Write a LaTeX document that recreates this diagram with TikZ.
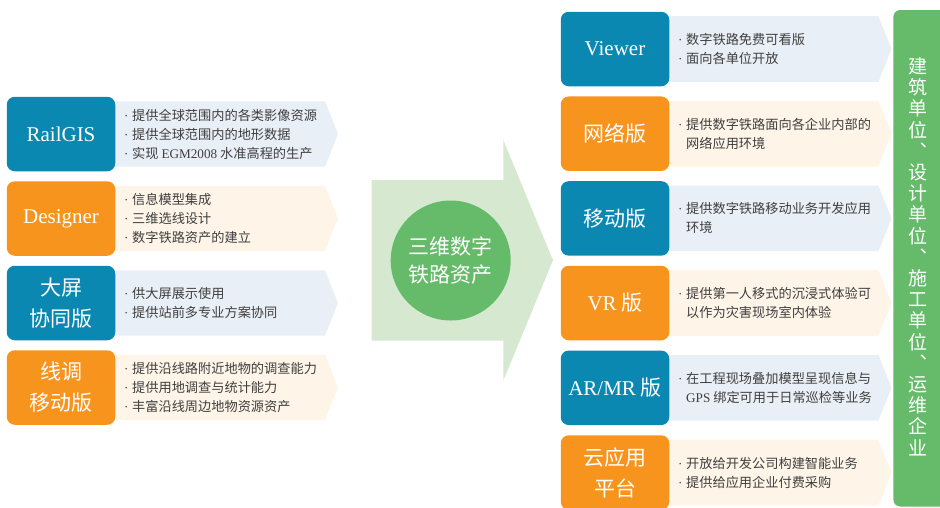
\documentclass[tikz,border=0pt]{standalone}
\usepackage{fontspec}
\setmainfont{Noto Sans CJK SC}
\newfontfamily\tnr{Liberation Serif}
\usepackage{tikz}
\usetikzlibrary{positioning, calc}
\usepackage{xcolor}
\definecolor{railblue}{HTML}{0A88B1}
\definecolor{railorange}{HTML}{F7941E}
\definecolor{railblueband}{HTML}{E9EFF6}
\definecolor{railorangeband}{HTML}{FEF4E8}
\definecolor{railgreen}{HTML}{66BB6A}
\definecolor{railarrow}{HTML}{D6E9D0}
\definecolor{railtext}{HTML}{3F3F3F}
\newcommand{\itm}{\makebox[8pt][l]{\tnr ·}}
\newcommand{\cont}{\hspace*{8pt}}
\tikzset{
  prodbox/.style={rounded corners=8pt, minimum width=108.5pt, minimum height=74.5pt, inner sep=0pt,
    text=white, align=center, font=\fontsize{21}{31}\selectfont},
  bluebox/.style={prodbox, fill=railblue},
  orangebox/.style={prodbox, fill=railorange},
  notes/.style={anchor=west, align=left, text=railtext, inner sep=0pt,
    font=\fontsize{13.2}{19}\selectfont},
}

\begin{document}
\begin{tikzpicture}[x=1pt, y=-1pt]
\useasboundingbox (0,0) rectangle (940,507);
\clip (0,0) rectangle (940,507);
\foreach \y/\c in {134/railblueband, 218.5/railorangeband, 303/railblueband, 387.5/railorangeband} {
  \fill[\c] (60,\y-32.7) -- (325,\y-32.7) -- (338,\y) -- (325,\y+32.7) -- (60,\y+32.7) -- cycle;
}
\foreach \y/\c in {49/railblueband, 133.7/railorangeband, 218.4/railblueband, 303/railorangeband, 387.8/railblueband, 472.5/railorangeband} {
  \fill[\c] (615,\y-32.8) -- (878.5,\y-32.8) -- (891.5,\y) -- (878.5,\y+32.8) -- (615,\y+32.8) -- cycle;
}
\fill[railarrow] (371.7,180) -- (503.3,180) -- (503.3,140) -- (553,260.3) -- (503.3,380.6) -- (503.3,340.7) -- (371.7,340.7) -- cycle;
\node[circle, fill=railgreen, minimum size=120pt, inner sep=0pt, text=white, align=center,
  font=\fontsize{21}{28}\selectfont] (core) at (450.7,260.5) {三维数字\\铁路资产};
\fill[railgreen, rounded corners=7pt] (893.3,10) rectangle (952,506.5);
\node[text=white, align=center, inner sep=0pt, font=\fontsize{19}{21.2}\selectfont] (units) at (918,256.5)
  {建\\筑\\单\\位\\︑\\设\\计\\单\\位\\︑\\施\\工\\单\\位\\︑\\运\\维\\企\\业};

\node[bluebox] (railgis) at (61,134) {\tnr RailGIS};
\node[orangebox] (designer) at (61,218.5) {\tnr Designer};
\node[bluebox] (screen) at (61,303) {大屏\\协同版};
\node[orangebox] (survey) at (61,387.5) {线调\\移动版};

\node[notes, right=8.5pt of railgis] (railgis-notes) {\itm 提供全球范围内的各类影像资源\\\itm 提供全球范围内的地形数据\\\itm 实现 {\tnr EGM2008} 水准高程的生产};
\node[notes, right=8.5pt of designer] (designer-notes) {\itm 信息模型集成\\\itm 三维选线设计\\\itm 数字铁路资产的建立};
\node[notes, right=8.5pt of screen] (screen-notes) {\itm 供大屏展示使用\\\itm 提供站前多专业方案协同};
\node[notes, right=8.5pt of survey] (survey-notes) {\itm 提供沿线路附近地物的调查能力\\\itm 提供用地调查与统计能力\\\itm 丰富沿线周边地物资源资产};

\node[bluebox] (viewer) at (615,49) {\tnr Viewer};
\node[orangebox] (web) at (615,133.7) {网络版};
\node[bluebox] (mobile) at (615,218.4) {移动版};
\node[orangebox] (vr) at (615,303) {{\tnr VR} 版};
\node[bluebox] (armr) at (615,387.8) {{\tnr AR/MR} 版};
\node[orangebox] (cloud) at (615,472.5) {云应用\\平台};

\node[notes, right=8.5pt of viewer] (viewer-notes) {\itm 数字铁路免费可看版\\\itm 面向各单位开放};
\node[notes, right=8.5pt of web] (web-notes) {\itm 提供数字铁路面向各企业内部的\\\cont 网络应用环境};
\node[notes, right=8.5pt of mobile] (mobile-notes) {\itm 提供数字铁路移动业务开发应用\\\cont 环境};
\node[notes, right=8.5pt of vr] (vr-notes) {\itm 提供第一人移式的沉浸式体验可\\\cont 以作为灾害现场室内体验};
\node[notes, right=8.5pt of armr] (armr-notes) {\itm 在工程现场叠加模型呈现信息与\\\cont {\tnr GPS} 绑定可用于日常巡检等业务};
\node[notes, right=8.5pt of cloud] (cloud-notes) {\itm 开放给开发公司构建智能业务\\\itm 提供给应用企业付费采购};
\end{tikzpicture}
\end{document}
